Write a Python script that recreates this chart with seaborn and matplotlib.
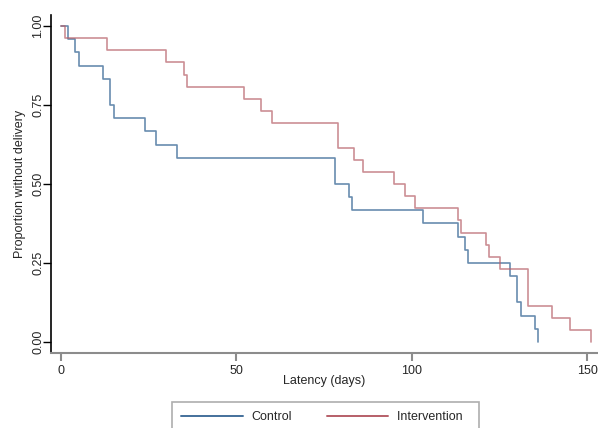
import numpy as np
import pandas as pd
import matplotlib
matplotlib.use("Agg")
import matplotlib.pyplot as plt
import seaborn as sns

# Kaplan-Meier style step data
control_days = [0, 2, 4, 5, 12, 14, 15, 24, 27, 33, 78, 82, 83, 103, 113, 115, 116, 128, 130, 131, 135, 136]
control_surv = [1.0, 0.958, 0.917, 0.875, 0.833, 0.75, 0.708, 0.667, 0.625, 0.583, 0.5, 0.458,
                0.417, 0.375, 0.333, 0.292, 0.25, 0.208, 0.125, 0.083, 0.042, 0.0]

interv_days = [0, 1, 13, 30, 35, 36, 52, 57, 60, 79, 83.5, 86, 95, 98, 101, 113, 114, 121, 122,
               125, 133, 140, 145, 151]
interv_surv = [1.0, 0.962, 0.923, 0.885, 0.846, 0.808, 0.769, 0.731, 0.692, 0.615, 0.577, 0.538,
               0.5, 0.462, 0.423, 0.385, 0.346, 0.308, 0.269, 0.231, 0.115, 0.077, 0.038, 0.0]

group_names = ["Control", "Intervention"]
group_colors = ["#43709b", "#b75f68"]
x_ticks = [0, 50, 100, 150]
y_ticks = [0.0, 0.25, 0.5, 0.75, 1.0]

sns.set_style("white")
plt.rcParams['font.family'] = ['Liberation Sans', 'DejaVu Sans']
plt.rcParams['font.size'] = 9

df_c = pd.DataFrame({"days": control_days, "surv": control_surv})
df_i = pd.DataFrame({"days": interv_days, "surv": interv_surv})

fig = plt.figure(figsize=(5.98, 4.28), dpi=100)
ax = fig.add_axes([51 / 598, 1 - 353 / 428, 547 / 598, 338 / 428])

sns.lineplot(data=df_c, x="days", y="surv", ax=ax, drawstyle="steps-post", estimator=None,
             sort=False, color=group_colors[0], linewidth=1.2, alpha=0.8)
sns.lineplot(data=df_i, x="days", y="surv", ax=ax, drawstyle="steps-post", estimator=None,
             sort=False, color=group_colors[1], linewidth=1.2, alpha=0.7)

ax.set_xlim(-2.85, 153)
ax.set_ylim(-0.035, 1.035)
ax.set_xticks(x_ticks)
ax.set_yticks(y_ticks)
ax.set_yticklabels([f"{v:.2f}" for v in y_ticks], rotation=90, va="center")
ax.set_xlabel("Latency (days)", fontsize=9, labelpad=-2)
ax.set_ylabel("Proportion without delivery", fontsize=9, labelpad=4)

for s in ["top", "right"]:
    ax.spines[s].set_visible(False)
ax.spines["left"].set_color("black")
ax.spines["left"].set_linewidth(1.2)
ax.spines["bottom"].set_color("#8c8c8c")
ax.spines["bottom"].set_linewidth(1.5)
ax.tick_params(axis="y", left=True, length=6, width=1.0, color="black", labelsize=9, pad=-1)
ax.tick_params(axis="x", bottom=True, length=6, width=1.5, color="#8c8c8c", labelsize=9, pad=3)

handles = [plt.Line2D([], [], color=c, linewidth=1.4) for c in group_colors]
leg = fig.legend(handles, [group_names[0], group_names[1] + "  "], loc="upper left",
                 bbox_to_anchor=(172 / 598, 1 - 402 / 428), ncol=2, frameon=True,
                 fancybox=False, edgecolor="#9a9a9a", fontsize=9, handlelength=4.9,
                 handletextpad=0.7, columnspacing=2.8, borderpad=0.75, borderaxespad=0)
leg.get_frame().set_linewidth(1.2)

fig.savefig("out.png", dpi=100)
